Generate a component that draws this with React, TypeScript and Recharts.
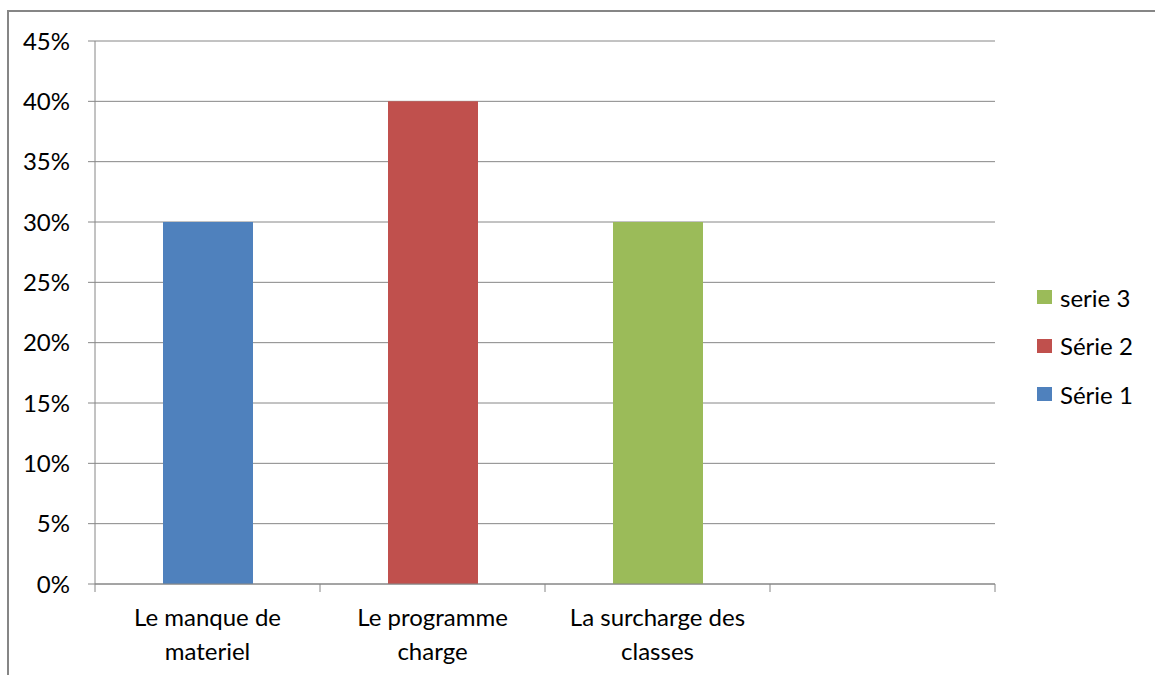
import React from "react";
import { BarChart, Bar, XAxis, YAxis, CartesianGrid } from "recharts";

const categories = [
  "Le manque de\nmateriel",
  "Le programme\ncharge",
  "La surcharge des\nclasses",
  "",
];
const serie1 = [0.3, null, null, null];
const serie2 = [null, 0.4, null, null];
const serie3 = [null, null, 0.3, null];
const yTicks = [0, 0.05, 0.1, 0.15, 0.2, 0.25, 0.3, 0.35, 0.4, 0.45];

const series = [
  { key: "s1", name: "Série 1", color: "#4F81BD", values: serie1 },
  { key: "s2", name: "Série 2", color: "#C0504D", values: serie2 },
  { key: "s3", name: "serie 3", color: "#9BBB59", values: serie3 },
];

const data = categories.map((c, i) => ({
  cat: c,
  s1: serie1[i],
  s2: serie2[i],
  s3: serie3[i],
}));

const FONT = "Lato, 'Open Sans', sans-serif";
const GRAY = "#868686";

// category label plus the tick marks on the band edges
//eslint-disable-next-line
function CatTick(props: any) {
  const { x, y, payload, index } = props;
  const half = payload.offset || 0;
  const lines = String(payload.value).split("\n");
  const last = index === categories.length - 1;
  return (
    <g>
      <line x1={x - half} x2={x - half} y1={y} y2={y + 8} stroke={GRAY} />
      {last && (
        <line x1={x + half} x2={x + half} y1={y} y2={y + 8} stroke={GRAY} />
      )}
      <text
        x={x}
        y={y}
        textAnchor="middle"
        fontFamily={FONT}
        fontSize={24}
        fill="#000"
      >
        {lines.map((l, i) => (
          <tspan key={i} x={x} dy={i === 0 ? 42 : 34}>
            {l}
          </tspan>
        ))}
      </text>
    </g>
  );
}

function App() {
  return (
    <div
      style={{
        position: "absolute",
        left: 0,
        top: 0,
        width: 1155,
        height: 675,
        overflow: "hidden",
        background: "#fff",
      }}
    >
      <div
        style={{
          position: "absolute",
          left: 7,
          top: 10,
          width: 1200,
          height: 700,
          border: `2px solid ${GRAY}`,
        }}
      />
      <div style={{ position: "absolute", left: 0, top: 0 }}>
        <BarChart
          width={1155}
          height={675}
          data={data}
          margin={{ top: 41, right: 160, left: 15, bottom: 0 }}
        >
          <CartesianGrid vertical={false} stroke={GRAY} strokeWidth={1} />
          <XAxis
            dataKey="cat"
            axisLine={{ stroke: GRAY }}
            tickLine={false}
            tickSize={0}
            tickMargin={0}
            height={91}
            interval={0}
            tick={<CatTick />}
          />
          <YAxis
            width={80}
            domain={[0, 0.45]}
            ticks={yTicks}
            interval={0}
            tickSize={7}
            tickMargin={18}
            axisLine={{ stroke: GRAY }}
            tickLine={{ stroke: GRAY }}
            tick={{ fill: "#000", fontSize: 24, fontFamily: FONT }}
            tickFormatter={(v: number) => `${Math.round(v * 100)}%`}
          />
          {series.map((s) => (
            <Bar
              key={s.key}
              dataKey={s.key}
              name={s.name}
              stackId="a"
              fill={s.color}
              barSize={90}
              isAnimationActive={false}
            />
          ))}
        </BarChart>
      </div>
      <div style={{ position: "absolute", left: 1037, top: 273 }}>
        {[...series].reverse().map((s) => (
          <div
            key={s.key}
            style={{
              display: "flex",
              alignItems: "center",
              height: 48.5,
            }}
          >
            <div
              style={{ width: 15, height: 14, background: s.color, marginRight: 8 }}
            />
            <span style={{ fontFamily: FONT, fontSize: 24, color: "#000" }}>
              {s.name}
            </span>
          </div>
        ))}
      </div>
    </div>
  );
}

export default App;
